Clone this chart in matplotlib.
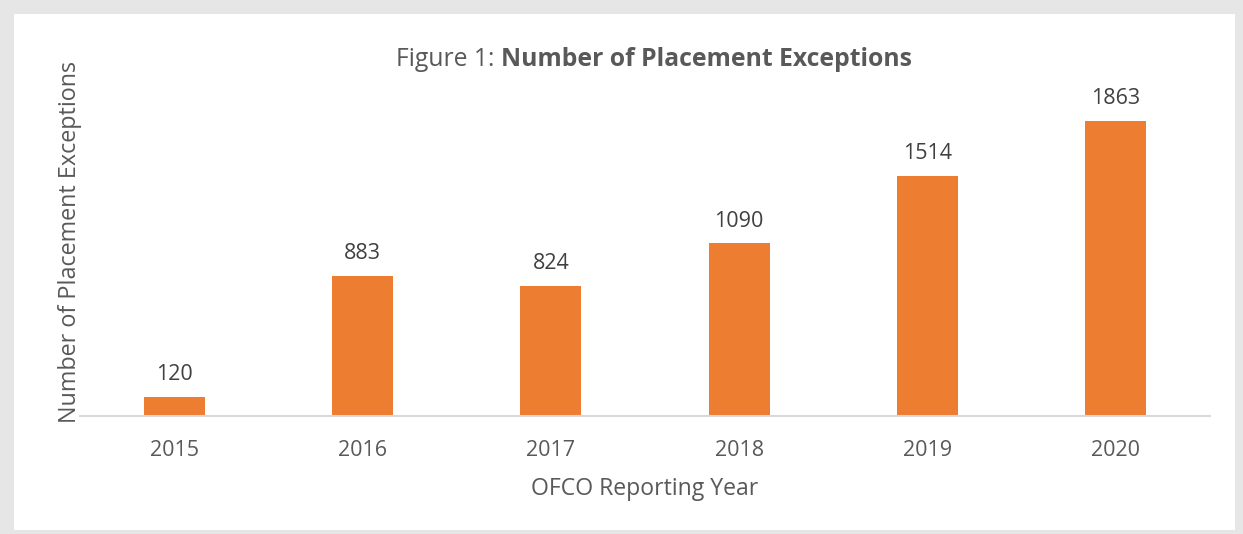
import matplotlib
matplotlib.use("Agg")
import matplotlib.pyplot as plt
from matplotlib.patches import Rectangle

years = ["2015", "2016", "2017", "2018", "2019", "2020"]
values = [120, 883, 824, 1090, 1514, 1863]

W, H = 1243, 534
plt.rcParams['font.family'] = ['Open Sans', 'DejaVu Sans']
fig = plt.figure(figsize=(W/100, H/100), dpi=100, facecolor='#E6E6E6')
bg = Rectangle((14/W, 4/H), 1221/W, 516/H, transform=fig.transFigure,
               facecolor='white', edgecolor='none', zorder=-10)
fig.add_artist(bg)

ax = fig.add_axes([80/W, 1-416/H, 1130/W, (416-99.4)/H])
ax.set_facecolor('none')
ax.set_zorder(1)
x = list(range(len(years)))
bars = ax.bar(x, values, width=0.325, color='#ED7D31', zorder=2)
ax.set_xlim(-0.5, len(years)-0.5)
ax.set_ylim(0, 2000)
for xi, v in zip(x, values):
    ax.annotate(str(v), (xi, v), xytext=(0, 12.2), textcoords='offset points',
                ha='center', va='baseline', fontsize=15.5, color='#404040', annotation_clip=False)
ax.set_xticks(x)
ax.set_xticklabels(years, fontsize=15.5, color='#595959')
ax.tick_params(axis='x', length=0, pad=17)
ax.set_yticks([])
for s in ['top', 'right', 'left']:
    ax.spines[s].set_visible(False)
ax.spines['bottom'].set_color('#D9D9D9')
ax.spines['bottom'].set_linewidth(1.5)

fig.text(645/W, 1-489/H, "OFCO Reporting Year", ha='center', va='center', fontsize=16.6, color='#595959')
fig.text(70/W, 1-242/H, "Number of Placement Exceptions", ha='center', va='center',
         rotation=90, fontsize=16.8, color='#595959')

# Title with mixed weights
fig.canvas.draw()
r = fig.canvas.get_renderer()
t1 = fig.text(0, 1-60/H, "Figure 1: ", ha='left', va='center', fontsize=17.8, color='#595959')
t2 = fig.text(0, 1-60/H, "Number of Placement Exceptions", ha='left', va='center',
              fontsize=17.8, fontweight='bold', color='#595959')
w1 = t1.get_window_extent(r).width
w2 = t2.get_window_extent(r).width
x0 = 654 - (w1 + w2) / 2
t1.set_x(x0 / W)
t2.set_x((x0 + w1) / W)

fig.savefig("out.png", dpi=100, facecolor=fig.get_facecolor())
